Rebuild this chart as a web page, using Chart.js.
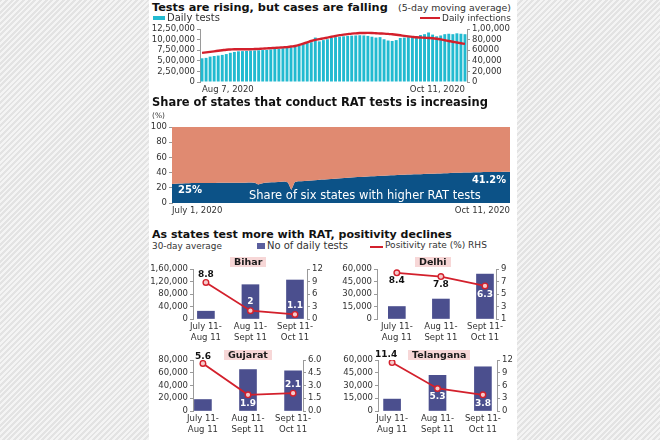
<!DOCTYPE html>
<html>
<head>
<meta charset="utf-8">
<script src="https://cdn.jsdelivr.net/npm/chart.js@4.4.0/dist/chart.umd.min.js"></script>
<style>
  html, body { margin: 0; padding: 0; }
  body {
    width: 660px; height: 440px; position: relative; overflow: hidden;
    background: repeating-linear-gradient(135deg, #e3e3e3 0 2px, #f4f4f4 2px 4px);
    font-family: "DejaVu Sans", sans-serif; color: #222;
  }
  #panel { position: absolute; left: 149px; top: 0; width: 368px; height: 440px; background: #fff; }
  canvas { position: absolute; }
  .t { position: absolute; white-space: nowrap; line-height: 1; transform: translateY(-50%); z-index: 2; font-size: 9px; color: #333; }
  .ttl { font-weight: bold; font-size: 11px; color: #111; }
  .wh { color: #fff; }
  .b { font-weight: bold; }
  .sw { position: absolute; z-index: 2; }
  .box { position: absolute; z-index: 2; background: #f7d7d7; height: 10px; padding: 0 4px;
         font-weight: bold; font-size: 9.5px; line-height: 10px; color: #1a1a1a; white-space: nowrap; }
</style>
</head>
<body>
<div id="panel"></div>

<!-- chart 1 -->
<div class="t ttl" style="left:152px;top:7.5px" data-w="236">Tests are rising, but cases are falling</div>
<div class="t" style="left:398px;top:7.5px" data-w="113">(5-day moving average)</div>
<div class="sw" style="left:153px;top:16px;width:12px;height:4px;background:#22bad0"></div>
<div class="t" style="left:167px;top:18px" data-w="53">Daily tests</div>
<div class="sw" style="left:420px;top:17px;width:20px;height:2px;background:#d3202c"></div>
<div class="t" style="left:442px;top:18px" data-w="69">Daily infections</div>
<canvas id="c1" width="367" height="76" style="left:150px;top:22px"></canvas>

<!-- chart 2 -->
<div class="t ttl" style="left:152px;top:103px" data-w="336">Share of states that conduct RAT tests is increasing</div>
<div class="t" style="left:152px;top:116px;font-size:7px" data-w="13">(%)</div>
<canvas id="c2" width="367" height="96" style="left:150px;top:120px"></canvas>
<div class="t wh b" style="left:178px;top:190px" data-w="24">25%</div>
<div class="t wh b" style="left:472px;top:180px" data-w="34">41.2%</div>
<div class="t wh" style="left:249px;top:196px" data-w="232">Share of six states with higher RAT tests</div>

<!-- chart 3 -->
<div class="t ttl" style="left:152px;top:234.5px" data-w="300">As states test more with RAT, positivity declines</div>
<div class="t" style="left:152px;top:246px" data-w="70">30-day average</div>
<div class="sw" style="left:257px;top:243px;width:8px;height:6px;background:#5b5f9e"></div>
<div class="t" style="left:267px;top:246px" data-w="81">No of daily tests</div>
<div class="sw" style="left:370px;top:245.5px;width:13px;height:2px;background:#d3202c"></div>
<div class="t" style="left:385px;top:246px" data-w="102">Positivity rate (%) RHS</div>

<canvas id="bihar" width="175" height="82" style="left:150px;top:262px"></canvas>
<canvas id="delhi" width="180" height="82" style="left:335px;top:262px"></canvas>
<canvas id="gujarat" width="175" height="92" style="left:150px;top:344px"></canvas>
<canvas id="telangana" width="180" height="92" style="left:335px;top:344px"></canvas>

<div class="box" style="left:230px;top:256.5px">Bihar</div>
<div class="box" style="left:415px;top:256.5px">Delhi</div>
<div class="box" style="left:224px;top:350px">Gujarat</div>
<div class="box" style="left:408px;top:349.5px">Telangana</div>

<script>
const TEAL = '#22bad0';
const RED = '#d3202c';
const SALMON = '#e08a71';
const NAVY = '#0c5287';
const BAR = '#4b4f8e';
const AXIS = '#9a9a9a';

const MONTHS = ['Jan', 'Feb', 'Mar', 'Apr', 'May', 'June', 'July', 'Aug', 'Sept', 'Oct', 'Nov', 'Dec'];

// ---- chart 1: daily tests (thousands) vs daily infections (thousands), Aug 7 - Oct 11
const dailyTestsK = [
  560, 570, 600, 615, 625, 640, 660, 690, 710, 725,
  730, 735, 740, 745, 750, 755, 760, 770, 780, 790,
  800, 810, 820, 830, 860, 900, 920, 940, 1050, 960,
  990, 1010, 1040, 1060, 1070, 1080, 1090, 1095, 1100, 1105,
  1100, 1090, 1070, 1050, 1060, 1010, 980, 970, 990, 1040,
  1050, 1060, 1060, 1070, 1110, 1130, 1170, 1120, 1080, 1100,
  1130, 1140, 1130, 1150, 1140, 1130
];
const dailyInfectionsK = [
  55, 56, 57, 58, 59, 60, 61, 61.5, 62, 62,
  62, 62, 62, 62.3, 62.6, 63, 63.5, 64, 64.5, 65,
  65.5, 66, 67, 68, 70, 72.5, 75, 77.5, 79.5, 81,
  82.5, 84, 85.5, 87, 88.5, 89.5, 90.5, 91.5, 92, 92.5,
  92.7, 92.8, 92.6, 92.2, 91.8, 91.5, 91, 90.2, 89.3, 88.3,
  87.2, 86.2, 85.3, 84.5, 84, 83.6, 83.2, 82.7, 81.8, 80.5,
  79, 77.5, 76, 74.7, 73.3, 72
];
const testTicks = ['0', '2,50,000', '5,00,000', '7,50,000', '10,00,000', '12,50,000'];
const infectionTicks = ['0', '20,000', '40,000', '60000', '80,000', '1,00,000'];

// ---- chart 2: share (%) of six states with higher RAT tests, July 1 - Oct 11
const ratShare = [
  25.0, 25.3, 25.6, 25.8, 26.0, 26.1, 26.2, 26.3, 26.3, 26.4,
  26.4, 26.5, 26.5, 26.5, 26.6, 26.6, 26.6, 26.7, 26.7, 26.7,
  26.8, 26.8, 26.8, 26.9, 26.9, 26.6, 24.5, 25.8, 26.8, 27.0,
  27.2, 27.5, 27.8, 28.0, 28.2, 27.0, 17.0, 27.5, 28.6, 28.8,
  29.1, 29.4, 29.7, 30.0, 30.4, 30.8, 31.1, 31.4, 31.7, 32.0,
  32.3, 32.6, 32.9, 33.2, 33.5, 33.8, 34.1, 34.4, 34.6, 34.9,
  35.1, 35.3, 35.6, 35.8, 36.0, 36.3, 36.5, 36.7, 36.9, 37.1,
  37.3, 37.5, 37.6, 37.8, 37.9, 38.0, 38.2, 38.4, 38.5, 38.7,
  38.9, 39.0, 39.2, 39.3, 39.5, 39.7, 39.9, 40.0, 40.1, 40.2,
  40.3, 40.4, 40.5, 40.6, 40.7, 40.8, 40.8, 40.9, 41.0, 41.0,
  41.1, 41.1, 41.2
];

// ---- chart 3: 30-day averages by state
const periods = [['July 11-', 'Aug 11'], ['Aug 11-', 'Sept 11'], ['Sept 11-', 'Oct 11']];
const biharTests = [25000, 110000, 125000];
const biharRate = [8.8, 2, 1.1];
const delhiTests = [15000, 24000, 54000];
const delhiRate = [8.4, 7.8, 6.3];
const gujaratTests = [18000, 65000, 63000];
const gujaratRate = [5.6, 1.9, 2.1];
const telanganaTests = [14000, 42000, 52000];
const telanganaRate = [11.4, 5.3, 3.8];

function dayLabels(y, m, d, n) {
  const out = [];
  for (let i = 0; i < n; i++) {
    const dt = new Date(y, m, d + i);
    out.push(MONTHS[dt.getMonth()] + ' ' + dt.getDate() + ', ' + dt.getFullYear());
  }
  return out;
}

function inr(n) {
  const s = String(Math.round(n));
  if (s.length <= 3) return s;
  const rest = s.slice(0, -3).replace(/\B(?=(\d{2})+(?!\d))/g, ',');
  return rest + ',' + s.slice(-3);
}

// squeeze/stretch html labels to the measured widths
document.querySelectorAll('[data-w]').forEach(el => {
  const target = +el.dataset.w;
  const fs = parseFloat(getComputedStyle(el).fontSize);
  const w = el.getBoundingClientRect().width;
  if (w > 0) el.style.fontSize = (fs * target / w) + 'px';
});

Chart.defaults.font.family = '"DejaVu Sans", sans-serif';
Chart.defaults.color = '#333';
Chart.defaults.animation = false;

const tickFont = { size: 8.5 };
const yGrid = { drawOnChartArea: false, tickLength: 3, color: AXIS };
const noGrid = { display: false, drawTicks: false, tickLength: 0 };

const testDates = dayLabels(2020, 7, 7, dailyTestsK.length);
new Chart(document.getElementById('c1'), {
  type: 'bar',
  data: {
    labels: testDates,
    datasets: [
      {
        type: 'line', data: dailyInfectionsK, yAxisID: 'y1', borderColor: RED,
        borderWidth: 2.4, pointRadius: 0, tension: 0.4, order: 0
      },
      {
        data: dailyTestsK, backgroundColor: TEAL, barPercentage: 0.72,
        categoryPercentage: 1, order: 1
      }
    ]
  },
  options: {
    responsive: false,
    layout: { padding: { top: 6 } },
    plugins: { legend: { display: false }, tooltip: { enabled: false } },
    scales: {
      x: {
        grid: noGrid, border: { display: false },
        ticks: {
          autoSkip: false, maxRotation: 0, align: 'inner', padding: 3, font: tickFont,
          callback: (v, i) => (i === 0 || i === testDates.length - 1) ? testDates[i] : ''
        },
        afterFit: s => { s.height = 16; }
      },
      y: {
        position: 'left', min: 0, max: 1250, grid: yGrid, border: { color: AXIS },
        ticks: { stepSize: 250, autoSkip: false, padding: 2, font: tickFont, callback: v => testTicks[Math.round(v / 250)] },
        afterFit: s => { s.width = 50; }
      },
      y1: {
        position: 'right', min: 0, max: 100, grid: yGrid, border: { color: AXIS },
        ticks: { stepSize: 20, autoSkip: false, padding: 2, font: tickFont, callback: v => infectionTicks[Math.round(v / 20)] },
        afterFit: s => { s.width = 50; }
      }
    }
  }
});

const ratDates = dayLabels(2020, 6, 1, ratShare.length);
new Chart(document.getElementById('c2'), {
  type: 'line',
  data: {
    labels: ratDates,
    datasets: [
      { data: ratShare, fill: 'end', backgroundColor: SALMON, borderWidth: 0, pointRadius: 0 },
      { data: ratShare, fill: 'origin', backgroundColor: NAVY, borderWidth: 0, pointRadius: 0 }
    ]
  },
  options: {
    responsive: false,
    layout: { padding: { top: 7, right: 7 } },
    plugins: { legend: { display: false }, tooltip: { enabled: false } },
    scales: {
      x: {
        grid: noGrid, border: { display: false },
        ticks: {
          autoSkip: false, maxRotation: 0, align: 'inner', padding: 3, font: tickFont,
          callback: (v, i) => (i === 0 || i === ratDates.length - 1) ? ratDates[i] : ''
        },
        afterFit: s => { s.height = 13; }
      },
      y: {
        min: 0, max: 100, grid: yGrid, border: { color: AXIS },
        ticks: { stepSize: 20, autoSkip: false, padding: 2, font: tickFont },
        afterFit: s => { s.width = 22; }
      }
    }
  }
});

// value labels next to the positivity points
const rateLabels = {
  id: 'rateLabels',
  afterDatasetsDraw(chart, args, opts) {
    const meta = chart.getDatasetMeta(1);
    const ctx = chart.ctx;
    ctx.save();
    ctx.font = 'bold 9px "DejaVu Sans", sans-serif';
    ctx.textAlign = 'center';
    ctx.textBaseline = 'middle';
    meta.data.forEach((pt, i) => {
      const [color, dx, dy] = opts.marks[i];
      ctx.fillStyle = color;
      ctx.fillText(String(chart.data.datasets[1].data[i].y), pt.x + dx, pt.y + dy);
    });
    ctx.restore();
  }
};

function statePanel(id, p) {
  new Chart(document.getElementById(id), {
    type: 'bar',
    data: {
      datasets: [
        {
          data: p.tests.map((v, i) => ({ x: i, y: v })), backgroundColor: BAR,
          barThickness: 17, order: 1
        },
        {
          type: 'line', yAxisID: 'y1', data: p.rate.map((v, i) => ({ x: i, y: v })),
          borderColor: RED, borderWidth: 1.8, pointRadius: 2.8, pointBorderWidth: 1.4,
          pointBackgroundColor: '#f6caca', pointBorderColor: RED, tension: 0, order: 0
        }
      ]
    },
    options: {
      responsive: false,
      layout: { padding: { top: p.top } },
      plugins: { legend: { display: false }, tooltip: { enabled: false }, rateLabels: { marks: p.marks } },
      scales: {
        x: {
          type: 'linear', offset: false, min: p.xMin, max: p.xMax,
          grid: noGrid, border: { display: false },
          afterBuildTicks: s => { s.ticks = [0, 1, 2].map(v => ({ value: v })); },
          ticks: { maxRotation: 0, autoSkip: false, padding: 3, font: tickFont, color: '#333', callback: v => periods[v] },
          afterFit: s => { s.height = 25; }
        },
        y: {
          position: 'left', min: 0, max: p.leftMax, grid: yGrid, border: { color: AXIS },
          ticks: { stepSize: p.leftStep, autoSkip: false, padding: 2, font: tickFont, callback: v => inr(v) },
          afterFit: s => { s.width = p.leftW; }
        },
        y1: {
          position: 'right', min: p.rightMin, max: p.rightMax, grid: yGrid, border: { color: AXIS },
          ticks: { stepSize: p.rightStep, autoSkip: false, padding: 2, font: tickFont, callback: v => p.dec ? v.toFixed(1) : String(v) },
          afterFit: s => { s.width = p.rightW; }
        }
      }
    },
    plugins: [rateLabels]
  });
}

statePanel('bihar', {
  tests: biharTests, rate: biharRate, top: 6, leftW: 43, rightW: 18,
  leftMax: 160000, leftStep: 40000, rightMin: 0, rightMax: 12, rightStep: 3,
  xMin: -0.29, xMax: 2.27,
  marks: [['#111', 0, -8], ['#fff', 0, -9], ['#fff', 0, -9]]
});
statePanel('delhi', {
  tests: delhiTests, rate: delhiRate, top: 6, leftW: 42, rightW: 19,
  leftMax: 60000, leftStep: 15000, rightMin: 1, rightMax: 9, rightStep: 2,
  xMin: -0.45, xMax: 2.25,
  marks: [['#111', 0, 8], ['#111', 0, 8], ['#fff', 0, 8.5]]
});
statePanel('gujarat', {
  tests: gujaratTests, rate: gujaratRate, top: 16, leftW: 43, rightW: 22, dec: true,
  leftMax: 80000, leftStep: 20000, rightMin: 0, rightMax: 6, rightStep: 1.5,
  xMin: -0.22, xMax: 2.22,
  marks: [['#111', 0, -6.5], ['#fff', 0, 9], ['#fff', 0, -8]]
});
statePanel('telangana', {
  tests: telanganaTests, rate: telanganaRate, top: 16, leftW: 43, rightW: 18,
  leftMax: 60000, leftStep: 15000, rightMin: 0, rightMax: 12, rightStep: 3,
  xMin: -0.31, xMax: 2.31,
  marks: [['#111', -6, -8], ['#fff', 0, 8.5], ['#fff', 0, 8.5]]
});
</script>
</body>
</html>
